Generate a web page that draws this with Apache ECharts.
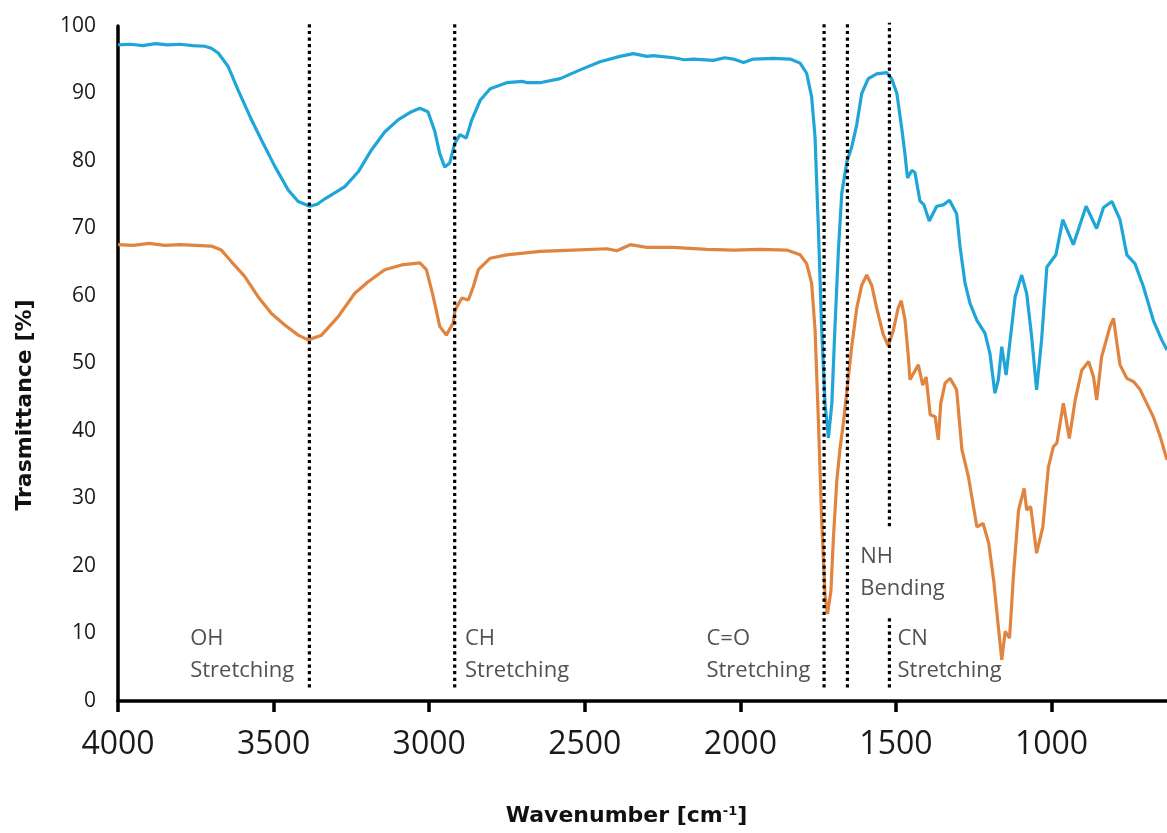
<!DOCTYPE html>
<html>
<head>
<meta charset="utf-8">
<title>FTIR spectra</title>
<script src="https://cdn.jsdelivr.net/npm/echarts@6/dist/echarts.min.js"></script>
<style>
  html, body { margin: 0; padding: 0; background: #fff; }
  #ftir-chart { width: 1167px; height: 833px; }
</style>
</head>
<body>
<div id="ftir-chart"></div>
<script>
// wavenumber [cm-1] / transmittance [%] pairs
var blueWave = [4000, 3960, 3920, 3880, 3840, 3800, 3760, 3721, 3700, 3678, 3646, 3614, 3571, 3539, 3496, 3453, 3421, 3384, 3360, 3335, 3271, 3228, 3186, 3143, 3100, 3057, 3030, 3004, 2982, 2966, 2950, 2934, 2918, 2901, 2881, 2863, 2836, 2804, 2751, 2700, 2686, 2644, 2579, 2515, 2451, 2387, 2344, 2300, 2280, 2215, 2180, 2151, 2087, 2050, 2022, 1990, 1958, 1894, 1840, 1808, 1787, 1771, 1760, 1749, 1739, 1728, 1717, 1706, 1696, 1685, 1674, 1658, 1642, 1626, 1610, 1589, 1562, 1530, 1514, 1497, 1481, 1471, 1463, 1449, 1439, 1423, 1410, 1393, 1369, 1348, 1328, 1305, 1294, 1278, 1262, 1240, 1214, 1198, 1182, 1171, 1160, 1146, 1133, 1117, 1096, 1080, 1064, 1048, 1032, 1015, 999, 986, 964, 930, 889, 855, 833, 806, 780, 758, 732, 705, 673, 646, 629];
var blueValue = [97.2, 97.3, 97.1, 97.4, 97.2, 97.3, 97.1, 97.0, 96.7, 96.0, 94.0, 90.5, 86.1, 83.1, 79.2, 75.7, 74.0, 73.3, 73.6, 74.4, 76.2, 78.4, 81.6, 84.3, 86.1, 87.3, 87.8, 87.3, 84.4, 81.1, 79.1, 79.7, 82.6, 83.9, 83.4, 86.1, 89.0, 90.7, 91.6, 91.8, 91.6, 91.6, 92.2, 93.5, 94.7, 95.5, 95.9, 95.5, 95.6, 95.3, 95.0, 95.1, 94.9, 95.3, 95.1, 94.6, 95.1, 95.2, 95.1, 94.5, 93.0, 89.5, 83.5, 69.6, 55.4, 44.1, 39.0, 44.1, 55.4, 66.7, 75.3, 79.8, 82.1, 85.4, 90.0, 92.2, 92.9, 93.1, 92.2, 90.0, 84.7, 81.0, 77.5, 78.6, 78.3, 74.1, 73.5, 71.1, 73.3, 73.5, 74.2, 72.2, 67.3, 61.9, 58.9, 56.4, 54.5, 51.5, 45.6, 47.6, 52.5, 48.3, 53.5, 59.9, 63.1, 60.4, 54.0, 46.1, 53.5, 64.3, 65.3, 66.1, 71.3, 67.6, 73.3, 70.0, 73.1, 74.0, 71.3, 66.1, 64.8, 61.4, 56.4, 53.5, 52.0];

var orangeWave = [4000, 3950, 3900, 3850, 3800, 3750, 3700, 3668, 3636, 3593, 3550, 3507, 3464, 3421, 3389, 3346, 3293, 3239, 3196, 3143, 3089, 3030, 3009, 2987, 2966, 2945, 2923, 2917, 2895, 2874, 2858, 2842, 2804, 2751, 2644, 2537, 2429, 2397, 2354, 2301, 2215, 2108, 2022, 1937, 1851, 1808, 1787, 1771, 1760, 1749, 1739, 1728, 1720, 1709, 1701, 1690, 1680, 1669, 1658, 1642, 1626, 1610, 1594, 1578, 1562, 1541, 1525, 1509, 1493, 1483, 1471, 1460, 1455, 1444, 1428, 1414, 1403, 1390, 1374, 1364, 1356, 1342, 1326, 1305, 1288, 1267, 1240, 1220, 1202, 1186, 1171, 1160, 1149, 1135, 1122, 1106, 1088, 1080, 1067, 1048, 1028, 1010, 994, 983, 962, 943, 924, 903, 881, 865, 855, 839, 812, 801, 790, 780, 758, 736, 715, 694, 673, 651, 629];
var orangeValue = [67.6, 67.5, 67.8, 67.5, 67.6, 67.5, 67.4, 66.8, 65.1, 62.9, 59.9, 57.4, 55.7, 54.2, 53.5, 54.2, 56.9, 60.4, 62.1, 63.9, 64.6, 64.9, 63.9, 59.9, 55.5, 54.2, 56.0, 57.9, 59.7, 59.4, 61.4, 63.9, 65.6, 66.1, 66.6, 66.8, 67.0, 66.7, 67.6, 67.2, 67.2, 66.9, 66.8, 66.9, 66.8, 66.1, 64.8, 61.9, 55.0, 41.2, 27.1, 15.7, 12.9, 16.3, 24.2, 32.7, 37.3, 41.2, 45.8, 52.6, 58.2, 61.6, 63.1, 61.6, 58.2, 54.3, 52.6, 54.8, 58.2, 59.3, 56.5, 50.9, 47.6, 48.5, 49.8, 46.8, 48.0, 42.4, 42.1, 38.7, 44.1, 47.1, 47.8, 46.1, 37.2, 33.2, 25.8, 26.3, 23.4, 17.9, 11.0, 6.1, 10.3, 9.3, 18.9, 28.3, 31.5, 28.3, 28.8, 21.9, 25.8, 34.7, 37.7, 38.2, 44.1, 38.9, 44.6, 49.0, 50.3, 48.0, 44.6, 51.0, 55.5, 56.7, 53.0, 49.8, 47.8, 47.3, 46.1, 44.1, 42.1, 39.2, 35.7];

// band markers: [wavenumber, from %, to %]
var bandLines = [
    [3385, 2, 100.5],
    [2918, 2, 100.5],
    [1731, 2, 100.5],
    [1656, 2, 100.5],
    [1521, 2, 12.7],
    [1521, 25.9, 100.5]
];

// band labels, anchored at [wavenumber, %]
var bandLabels = [
    { name: 'OH\nStretching', at: [3768, 6.8] },
    { name: 'CH\nStretching', at: [2885, 6.8] },
    { name: 'C=O\nStretching', at: [2109, 6.8] },
    { name: 'NH\nBending', at: [1615, 19.0] },
    { name: 'CN\nStretching', at: [1495, 6.8] }
];

var xTicks = [4000, 3500, 3000, 2500, 2000, 1500, 1000];

function pairs(xs, ys) {
    var out = [];
    for (var i = 0; i < xs.length; i++) out.push([xs[i], ys[i]]);
    return out;
}

var dom = document.getElementById('ftir-chart');
var myChart = echarts.init(dom, null, { renderer: 'canvas' });

var series = [
    {
        name: 'blue',
        type: 'line',
        data: pairs(blueWave, blueValue),
        showSymbol: false,
        lineStyle: { color: '#1fa5d8', width: 3.2 },
        z: 2
    },
    {
        name: 'orange',
        type: 'line',
        data: pairs(orangeWave, orangeValue),
        showSymbol: false,
        lineStyle: { color: '#e0843f', width: 3.2 },
        z: 2
    }
];

bandLines.forEach(function (b) {
    series.push({
        type: 'line',
        data: [[b[0], b[1]], [b[0], b[2]]],
        showSymbol: false,
        clip: false,
        silent: true,
        lineStyle: { color: '#000', width: 3.2, type: [3.2, 3.4] },
        z: 3
    });
});

series.push({
    type: 'scatter',
    symbolSize: 0,
    silent: true,
    data: bandLabels.map(function (l) { return { name: l.name, value: l.at }; }),
    label: {
        show: true,
        position: [0, 0],
        align: 'left',
        verticalAlign: 'middle',
        formatter: '{b}',
        fontFamily: 'Open Sans',
        fontSize: 22,
        lineHeight: 32,
        color: '#262626'
    },
    z: 4
});

var option = {
    animation: false,
    backgroundColor: '#fff',
    grid: { left: 118, right: 0, top: 26, bottom: 132 },
    xAxis: {
        type: 'value',
        inverse: true,
        min: 629,
        max: 4000,
        name: 'Wavenumber [cm{sup|-1}]',
        nameLocation: 'middle',
        nameGap: 104,
        nameTextStyle: {
            fontFamily: 'DejaVu Sans',
            fontWeight: 'bold',
            fontSize: 22,
            color: '#111',
            padding: [0, 32, 0, 0],
            rich: {
                sup: { fontFamily: 'DejaVu Sans', fontWeight: 'bold', fontSize: 13, verticalAlign: 'top', color: '#111' }
            }
        },
        axisLine: { onZero: false, lineStyle: { color: '#000', width: 3.5 } },
        axisTick: { show: true, customValues: xTicks, length: 11, lineStyle: { color: '#000', width: 3.5 } },
        axisLabel: {
            customValues: xTicks,
            formatter: function (v) { return String(v); },
            margin: 28,
            fontFamily: 'Open Sans',
            fontSize: 32,
            color: '#1a1a1a'
        },
        splitLine: { show: false }
    },
    yAxis: {
        type: 'value',
        min: 0,
        max: 100,
        interval: 10,
        name: 'Trasmittance [%]',
        nameLocation: 'middle',
        nameGap: 82,
        nameTextStyle: {
            fontFamily: 'DejaVu Sans',
            fontWeight: 'bold',
            fontSize: 22,
            color: '#111',
            padding: [0, 83, 0, 0]
        },
        axisLine: { show: true, lineStyle: { color: '#000', width: 3.5 } },
        axisTick: { show: false },
        axisLabel: {
            margin: 22,
            fontFamily: 'Open Sans',
            fontSize: 21,
            color: '#1a1a1a'
        },
        splitLine: { show: false }
    },
    series: series
};

if (option && typeof option === 'object') {
    myChart.setOption(option);
}

window.addEventListener('resize', myChart.resize);
</script>
</body>
</html>
